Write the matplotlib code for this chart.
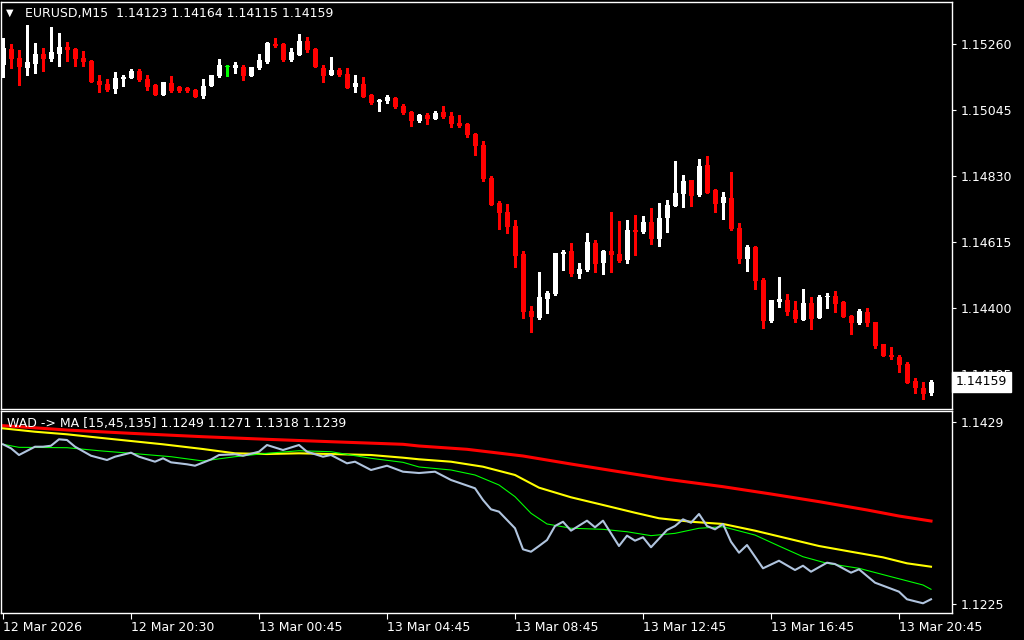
import matplotlib
matplotlib.use("Agg")
import matplotlib.pyplot as plt
import numpy as np

# ---- data (EURUSD M15, last 117 bars) ----
symbol = "EURUSD,M15"

opens = [
    1.15192, 1.15244, 1.15214, 1.15182, 1.15195, 1.15227, 1.15211, 1.15227, 1.15250, 1.15244,
    1.15214, 1.15205, 1.15139, 1.15130, 1.15113, 1.15146, 1.15149, 1.15172, 1.15146, 1.15126,
    1.15094, 1.15133, 1.15120, 1.15117, 1.15110, 1.15091, 1.15123, 1.15156, 1.15185, 1.15182,
    1.15185, 1.15156, 1.15182, 1.15201, 1.15260, 1.15260, 1.15208, 1.15224, 1.15270, 1.15244,
    1.15182, 1.15159, 1.15175, 1.15162, 1.15120, 1.15130, 1.15094, 1.15071, 1.15074, 1.15084,
    1.15058, 1.15038, 1.15009, 1.15029, 1.15016, 1.15038, 1.15025, 1.15003, 1.14999, 1.14967,
    1.14931, 1.14823, 1.14742, 1.14713, 1.14667, 1.14576, 1.14390, 1.14367, 1.14429, 1.14446,
    1.14576, 1.14586, 1.14511, 1.14524, 1.14612, 1.14546, 1.14586, 1.14576, 1.14556, 1.14654,
    1.14648, 1.14680, 1.14625, 1.14693, 1.14732, 1.14771, 1.14817, 1.14768, 1.14866, 1.14784,
    1.14742, 1.14758, 1.14661, 1.14560, 1.14599, 1.14491, 1.14358, 1.14419, 1.14426, 1.14393,
    1.14361, 1.14416, 1.14367, 1.14436, 1.14439, 1.14419, 1.14374, 1.14351, 1.14387, 1.14354,
    1.14283, 1.14247, 1.14240, 1.14218, 1.14162, 1.14139, 1.14123,
]
highs = [
    1.15280, 1.15260, 1.15240, 1.15322, 1.15263, 1.15247, 1.15315, 1.15296, 1.15267, 1.15247,
    1.15237, 1.15208, 1.15159, 1.15146, 1.15169, 1.15159, 1.15179, 1.15179, 1.15159, 1.15130,
    1.15136, 1.15156, 1.15123, 1.15120, 1.15113, 1.15146, 1.15159, 1.15211, 1.15192, 1.15201,
    1.15192, 1.15185, 1.15227, 1.15267, 1.15280, 1.15263, 1.15247, 1.15293, 1.15283, 1.15247,
    1.15192, 1.15218, 1.15182, 1.15182, 1.15159, 1.15152, 1.15097, 1.15081, 1.15094, 1.15087,
    1.15065, 1.15042, 1.15032, 1.15035, 1.15042, 1.15058, 1.15038, 1.15029, 1.15003, 1.14970,
    1.14944, 1.14830, 1.14748, 1.14739, 1.14687, 1.14586, 1.14406, 1.14517, 1.14455, 1.14579,
    1.14589, 1.14612, 1.14546, 1.14644, 1.14621, 1.14589, 1.14713, 1.14683, 1.14687, 1.14703,
    1.14700, 1.14726, 1.14742, 1.14752, 1.14879, 1.14833, 1.14817, 1.14885, 1.14895, 1.14788,
    1.14778, 1.14843, 1.14677, 1.14605, 1.14602, 1.14498, 1.14426, 1.14501, 1.14446, 1.14423,
    1.14462, 1.14436, 1.14442, 1.14449, 1.14455, 1.14423, 1.14377, 1.14397, 1.14400, 1.14354,
    1.14283, 1.14273, 1.14247, 1.14224, 1.14172, 1.14159, 1.14164,
]
lows = [
    1.15152, 1.15182, 1.15126, 1.15159, 1.15166, 1.15172, 1.15205, 1.15188, 1.15205, 1.15188,
    1.15188, 1.15136, 1.15104, 1.15107, 1.15100, 1.15123, 1.15149, 1.15139, 1.15110, 1.15094,
    1.15094, 1.15104, 1.15104, 1.15104, 1.15087, 1.15084, 1.15123, 1.15152, 1.15156, 1.15166,
    1.15143, 1.15156, 1.15179, 1.15198, 1.15250, 1.15205, 1.15205, 1.15224, 1.15234, 1.15185,
    1.15136, 1.15159, 1.15156, 1.15117, 1.15104, 1.15087, 1.15065, 1.15042, 1.15068, 1.15051,
    1.15032, 1.14993, 1.15006, 1.14999, 1.15016, 1.15019, 1.14990, 1.14990, 1.14957, 1.14898,
    1.14814, 1.14735, 1.14657, 1.14644, 1.14533, 1.14367, 1.14322, 1.14364, 1.14384, 1.14442,
    1.14524, 1.14504, 1.14498, 1.14520, 1.14517, 1.14511, 1.14517, 1.14550, 1.14546, 1.14573,
    1.14644, 1.14608, 1.14602, 1.14648, 1.14732, 1.14729, 1.14732, 1.14765, 1.14775, 1.14713,
    1.14690, 1.14654, 1.14546, 1.14520, 1.14462, 1.14335, 1.14354, 1.14403, 1.14377, 1.14354,
    1.14361, 1.14332, 1.14367, 1.14400, 1.14387, 1.14371, 1.14315, 1.14348, 1.14341, 1.14270,
    1.14244, 1.14234, 1.14192, 1.14156, 1.14123, 1.14104, 1.14115,
]
closes = [
    1.15247, 1.15211, 1.15185, 1.15201, 1.15227, 1.15211, 1.15234, 1.15250, 1.15240, 1.15211,
    1.15201, 1.15136, 1.15126, 1.15110, 1.15149, 1.15152, 1.15172, 1.15143, 1.15120, 1.15094,
    1.15136, 1.15107, 1.15107, 1.15107, 1.15087, 1.15123, 1.15159, 1.15192, 1.15185, 1.15192,
    1.15156, 1.15185, 1.15208, 1.15263, 1.15253, 1.15208, 1.15234, 1.15270, 1.15240, 1.15185,
    1.15156, 1.15175, 1.15159, 1.15117, 1.15133, 1.15087, 1.15068, 1.15078, 1.15087, 1.15055,
    1.15035, 1.15009, 1.15029, 1.15016, 1.15035, 1.15022, 1.14999, 1.14993, 1.14964, 1.14928,
    1.14820, 1.14735, 1.14709, 1.14664, 1.14569, 1.14387, 1.14371, 1.14436, 1.14449, 1.14579,
    1.14582, 1.14511, 1.14527, 1.14615, 1.14543, 1.14586, 1.14573, 1.14553, 1.14654, 1.14648,
    1.14680, 1.14625, 1.14693, 1.14735, 1.14775, 1.14814, 1.14765, 1.14862, 1.14775, 1.14739,
    1.14762, 1.14657, 1.14560, 1.14599, 1.14488, 1.14358, 1.14426, 1.14429, 1.14387, 1.14364,
    1.14416, 1.14364, 1.14436, 1.14439, 1.14413, 1.14371, 1.14351, 1.14390, 1.14351, 1.14276,
    1.14244, 1.14240, 1.14214, 1.14156, 1.14139, 1.14120, 1.14159,
]

price_ticks = [1.15260, 1.15045, 1.14830, 1.14615, 1.14400, 1.14185]
time_tick_bars = [0, 16, 32, 48, 64, 80, 96, 112]
time_labels = ["12 Mar 2026", "12 Mar 20:30", "13 Mar 00:45", "13 Mar 04:45",
               "13 Mar 08:45", "13 Mar 12:45", "13 Mar 16:45", "13 Mar 20:45"]

# WAD indicator and its moving averages
ind_label = "WAD -> MA [15,45,135] 1.1249 1.1271 1.1318 1.1239"
ind_ticks = [1.1429, 1.1225]

wad_bars = [0, 1, 2, 4, 5, 6, 7, 8, 9, 11, 13, 14, 16, 17, 19, 20, 21, 23, 24, 26,
            27, 29, 30, 32, 33, 35, 37, 38, 40, 41, 43, 44, 46, 48, 50, 52, 54, 56, 59, 60,
            61, 62, 64, 65, 66, 67, 68, 69, 70, 71, 73, 74, 75, 77, 78, 79, 80, 81, 83, 84,
            85, 86, 87, 88, 89, 90, 91, 92, 93, 95, 97, 99, 100, 101, 103, 104, 106, 107, 109, 112,
            113, 115, 116]
wad_vals = [1.14040, 1.13995, 1.13920, 1.14013, 1.14013, 1.14024, 1.14096, 1.14088, 1.14013, 1.13912,
            1.13864, 1.13901, 1.13946, 1.13901, 1.13845, 1.13883, 1.13838, 1.13816, 1.13800, 1.13870,
            1.13920, 1.13928, 1.13912, 1.13957, 1.14032, 1.13976, 1.14032, 1.13957, 1.13901, 1.13920,
            1.13827, 1.13845, 1.13752, 1.13800, 1.13733, 1.13718, 1.13733, 1.13640, 1.13547, 1.13416,
            1.13311, 1.13285, 1.13099, 1.12863, 1.12836, 1.12900, 1.12967, 1.13124, 1.13172, 1.13072,
            1.13184, 1.13110, 1.13184, 1.12900, 1.13016, 1.12960, 1.12998, 1.12886, 1.13079, 1.13124,
            1.13199, 1.13161, 1.13259, 1.13124, 1.13087, 1.13147, 1.12948, 1.12825, 1.12911, 1.12650,
            1.12735, 1.12631, 1.12679, 1.12612, 1.12713, 1.12698, 1.12601, 1.12639, 1.12489, 1.12388,
            1.12303, 1.12258, 1.12303]

ma15_bars = [0, 2, 8, 12, 16, 21, 25, 29, 33, 37, 41, 46, 50, 52, 56, 59, 62, 64, 66, 68,
             71, 75, 78, 81, 84, 87, 90, 94, 97, 100, 103, 107, 111, 115, 116]
ma15_vals = [1.14040, 1.14006, 1.14002, 1.13968, 1.13939, 1.13901, 1.13853, 1.13901, 1.13939, 1.13968,
             1.13957, 1.13883, 1.13838, 1.13786, 1.13752, 1.13696, 1.13584, 1.13453, 1.13267, 1.13147,
             1.13099, 1.13087, 1.13060, 1.13016, 1.13042, 1.13099, 1.13116, 1.13023, 1.12900, 1.12780,
             1.12706, 1.12650, 1.12556, 1.12463, 1.12415]

ma45_bars = [0, 4, 8, 12, 16, 20, 25, 29, 33, 37, 41, 46, 50, 52, 56, 60, 64, 67, 71, 75,
             79, 82, 86, 90, 94, 98, 102, 106, 110, 113, 116]
ma45_vals = [1.14219, 1.14181, 1.14152, 1.14114, 1.14077, 1.14040, 1.13987, 1.13939, 1.13931, 1.13939,
             1.13931, 1.13920, 1.13890, 1.13872, 1.13845, 1.13789, 1.13696, 1.13554, 1.13446, 1.13360,
             1.13273, 1.13211, 1.13172, 1.13147, 1.13072, 1.12986, 1.12900, 1.12836, 1.12773, 1.12706,
             1.12668]

ma135_bars = [0, 8, 16, 25, 33, 41, 50, 52, 58, 65, 71, 77, 83, 90, 96, 102, 108, 112, 116]
ma135_vals = [1.14249, 1.14200, 1.14163, 1.14125, 1.14096, 1.14069, 1.14040, 1.14021, 1.13984, 1.13909,
              1.13819, 1.13733, 1.13648, 1.13565, 1.13483, 1.13397, 1.13304, 1.13236, 1.13180]

# ---- figure ----
W, H = 1024, 640
FS = 9
fig = plt.figure(figsize=(W / 100, H / 100), dpi=100, facecolor="black")


def panel(left, top, right, bottom):
    a = fig.add_axes([left / W, 1 - bottom / H, (right - left) / W, (bottom - top) / H])
    a.set_facecolor("black")
    for s in a.spines.values():
        s.set_color("white")
        s.set_linewidth(1.0)
    a.set_xlim(-0.25, 118.625)
    a.yaxis.tick_right()
    a.tick_params(axis="both", colors="white", labelsize=FS, length=3, width=0.8, pad=3)
    return a


ax = panel(1, 2, 952, 409)
ind = panel(1, 411, 952, 613)

# candles
o, h, l, c = (np.array(v) for v in (opens, highs, lows, closes))
x = np.arange(len(o))
colors = np.where(c > o, "white", np.where(c < o, "#FF0000", "#00FF00"))
ax.vlines(x, l, h, colors=colors, linewidth=0.8, antialiased=False)
ax.bar(x, np.maximum(np.abs(c - o), 0.00003), width=0.625, bottom=np.minimum(o, c),
       color=colors, linewidth=0, antialiased=False)
ax.set_ylim(1.140710, 1.153968)
ax.set_xticks([])
ax.set_yticks(price_ticks)
ax.set_yticklabels([f"{t:.5f}" for t in price_ticks])

# last price marker on the price scale
ax.text(1.0 + 4 / 951, closes[-1], f"{closes[-1]:.5f}", transform=ax.get_yaxis_transform(),
        ha="left", va="center", fontsize=FS, color="black", zorder=10, clip_on=False,
        bbox=dict(boxstyle="square,pad=0.3", facecolor="white", edgecolor="white"))

# indicator
ind.plot(ma135_bars, ma135_vals, color="#FF0000", linewidth=2.2)
ind.plot(ma45_bars, ma45_vals, color="#FFFF00", linewidth=1.5)
ind.plot(ma15_bars, ma15_vals, color="#00FF00", linewidth=0.8)
ind.plot(wad_bars, wad_vals, color="#B0C4DE", linewidth=1.5)
ind.set_ylim(1.121491, 1.144133)
ind.set_yticks(ind_ticks)
ind.set_yticklabels([f"{t:.4f}" for t in ind_ticks])
ind.set_xticks(time_tick_bars)
ind.set_xticklabels(time_labels, ha="left")
ind.tick_params(axis="x", length=4, pad=2)

# header texts
header = f"{symbol}  {opens[-1]:.5f} {highs[-1]:.5f} {lows[-1]:.5f} {closes[-1]:.5f}"
fig.text(6 / W, 1 - 13 / H, "\u25BC", color="white", fontsize=7, va="center", ha="left")
fig.text(25 / W, 1 - 14 / H, header, color="white", fontsize=FS, va="center", ha="left")
fig.text(7 / W, 1 - 424 / H, ind_label, color="white", fontsize=FS, va="center", ha="left")

fig.savefig("out.png", dpi=100, facecolor="black")
